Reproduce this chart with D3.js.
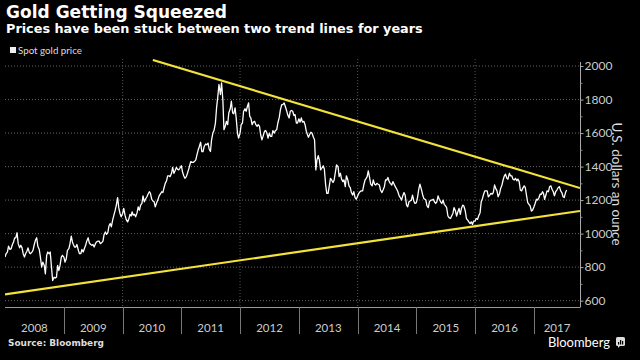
<!DOCTYPE html>
<html><head><meta charset="utf-8">
<script src="https://cdn.jsdelivr.net/npm/d3@7"></script>
<style>body{margin:0;background:#000;} svg{display:block}</style>
</head><body>
<svg id="c" width="640" height="360"></svg>
<script>
const titleText = "Gold Getting Squeezed";
const subtitleText = "Prices have been stuck between two trend lines for years";
const legendLabel = "Spot gold price";
const yAxisTitle = "U.S. dollars an ounce";
const sourceText = "Source: Bloomberg";
const brandText = "Bloomberg";
const yearLabels = ["2008","2009","2010","2011","2012","2013","2014","2015","2016","2017"];
const yTicks = [600, 800, 1000, 1200, 1400, 1600, 1800, 2000];
const yMinorTicks = [700, 900, 1100, 1300, 1500, 1700, 1900];
const gridYears = ["2010","2012","2014","2016"];
const weekDays = [1, 8, 16, 23];
// spot gold, USD/oz, four readings per month (days 1, 8, 16, 23)
const goldPrice = [
["2008-01",860,880,890,925],["2008-02",905,910,935,950],["2008-03",975,975,1005,940],
["2008-04",915,930,915,880],["2008-05",860,880,895,915],["2008-06",885,880,890,900],
["2008-07",935,960,975,925],["2008-08",905,860,800,830],["2008-09",810,760,870,890],
["2008-10",880,890,800,720],["2008-11",740,735,740,810],["2008-12",780,810,860,870],
["2009-01",860,830,850,900],["2009-02",910,940,985,950],["2009-03",935,920,920,935],
["2009-04",900,880,880,905],["2009-05",890,910,930,955],["2009-06",975,945,935,930],
["2009-07",935,920,940,950],["2009-08",955,955,940,945],["2009-09",955,995,1010,995],
["2009-10",1005,1045,1060,1040],["2009-11",1085,1110,1140,1170],["2009-12",1215,1155,1120,1100],
["2010-01",1120,1150,1110,1085],["2010-02",1070,1085,1115,1105],["2010-03",1130,1110,1115,1100],
["2010-04",1125,1160,1140,1170],["2010-05",1180,1225,1190,1205],["2010-06",1220,1235,1250,1240],
["2010-07",1205,1195,1190,1160],["2010-08",1185,1200,1225,1235],["2010-09",1250,1245,1275,1300],
["2010-10",1315,1345,1345,1340],["2010-11",1360,1395,1360,1375],["2010-12",1395,1385,1380,1390],
["2011-01",1405,1370,1345,1330],["2011-02",1340,1360,1385,1410],["2011-03",1430,1425,1425,1430],
["2011-04",1440,1470,1500,1520],["2011-05",1545,1490,1490,1520],["2011-06",1535,1530,1540,1505],
["2011-07",1490,1560,1600,1615],["2011-08",1660,1750,1820,1890],["2011-09",1830,1900,1800,1620],
["2011-10",1640,1670,1650,1720],["2011-11",1745,1790,1720,1715],["2011-12",1750,1690,1600,1570],
["2012-01",1600,1650,1660,1730],["2012-02",1745,1730,1760,1780],["2012-03",1700,1690,1650,1665],
["2012-04",1670,1650,1640,1650],["2012-05",1640,1590,1560,1580],["2012-06",1610,1615,1600,1570],
["2012-07",1600,1580,1580,1615],["2012-08",1600,1615,1620,1660],["2012-09",1695,1740,1770,1770],
["2012-10",1780,1760,1735,1710],["2012-11",1690,1730,1735,1730],["2012-12",1705,1710,1660,1660],
["2013-01",1685,1665,1690,1665],["2013-02",1670,1650,1610,1590],["2013-03",1575,1590,1605,1600],
["2013-04",1575,1560,1380,1440],["2013-05",1465,1440,1380,1390],["2013-06",1405,1385,1290,1240],
["2013-07",1240,1280,1330,1320],["2013-08",1305,1320,1370,1410],["2013-09",1400,1340,1360,1325],
["2013-10",1310,1320,1280,1345],["2013-11",1320,1285,1275,1245],["2013-12",1230,1250,1215,1205],
["2014-01",1225,1240,1250,1255],["2014-02",1255,1290,1320,1330],["2014-03",1340,1375,1335,1295],
["2014-04",1285,1320,1295,1290],["2014-05",1300,1295,1290,1260],["2014-06",1245,1260,1280,1320],
["2014-07",1320,1335,1310,1300],["2014-08",1290,1310,1295,1280],["2014-09",1265,1250,1225,1215],
["2014-10",1200,1225,1245,1230],["2014-11",1170,1160,1190,1195],["2014-12",1200,1230,1195,1180],
["2015-01",1185,1215,1265,1295],["2015-02",1265,1235,1210,1205],["2015-03",1200,1165,1155,1190],
["2015-04",1200,1200,1205,1190],["2015-05",1180,1190,1225,1205],["2015-06",1190,1180,1200,1175],
["2015-07",1165,1155,1105,1095],["2015-08",1090,1105,1120,1155],["2015-09",1135,1105,1130,1150],
["2015-10",1115,1150,1170,1165],["2015-11",1135,1090,1080,1070],["2015-12",1060,1070,1055,1075],
["2016-01",1075,1090,1085,1105],["2016-02",1125,1190,1210,1235],["2016-03",1255,1255,1255,1220],
["2016-04",1230,1240,1235,1245],["2016-05",1290,1270,1255,1220],["2016-06",1240,1270,1290,1320],
["2016-07",1345,1355,1330,1325],["2016-08",1360,1345,1345,1325],["2016-09",1320,1330,1315,1325],
["2016-10",1310,1260,1255,1270],["2016-11",1285,1275,1225,1185],["2016-12",1175,1165,1135,1140],
["2017-01",1160,1180,1205,1200],["2017-02",1215,1235,1235,1250],["2017-03",1240,1205,1230,1255],
["2017-04",1250,1280,1285,1265],["2017-05",1250,1225,1250,1260],["2017-06",1275,1280,1255,1245],
["2017-07",1220,1215,1245,1260]
];
const upperTrend = [["2010-07-08", 2036], ["2017-10-14", 1272]];
const lowerTrend = [["2008-01-01", 637], ["2017-10-14", 1135]];

const parseDay = d3.timeParse("%Y-%m-%d");
const parseMonth = d3.timeParse("%Y-%m");
const series = [];
goldPrice.forEach(row => {
  const m = parseMonth(row[0]);
  weekDays.forEach((day, i) => {
    series.push({date: new Date(m.getFullYear(), m.getMonth(), day), value: row[i + 1]});
  });
});

const svg = d3.select("#c");
const x = d3.scaleTime().domain([new Date(2008,0,1), new Date(2017,9,14)]).range([5, 580]);
const y = d3.scaleLinear().domain([562, 2042]).range([307, 59]);

svg.append("rect").attr("width",640).attr("height",360).attr("fill","#000");

function fit(sel, w) {
  const n = sel.node();
  const cur = n.getComputedTextLength();
  const fs = parseFloat(sel.attr("font-size"));
  sel.attr("font-size", (fs * w / cur).toFixed(2));
}

// titles
fit(svg.append("text").attr("x",6).attr("y",18).attr("fill","#fff").attr("font-family","DejaVu Sans")
  .attr("font-weight","bold").attr("font-size",18).text(titleText), 221);
fit(svg.append("text").attr("x",6).attr("y",33).attr("fill","#fff").attr("font-family","DejaVu Sans")
  .attr("font-weight","bold").attr("font-size",14).text(subtitleText), 417);

// legend
svg.append("rect").attr("x",10).attr("y",47).attr("width",6).attr("height",6).attr("fill","#eee");
fit(svg.append("text").attr("x",18).attr("y",53.5).attr("fill","#ddd").attr("font-family","Lato")
  .attr("font-size",11).text(legendLabel), 64);

// clip
svg.append("clipPath").attr("id","plot").append("rect").attr("x",5).attr("y",59).attr("width",575).attr("height",248);

// gridlines
const grid = svg.append("g");
grid.selectAll("line.h").data(yTicks).join("line").attr("class","h")
  .attr("x1",5).attr("x2",580).attr("y1",d=>y(d)).attr("y2",d=>y(d))
  .attr("stroke","#666").attr("stroke-dasharray","1,2");
grid.selectAll("line.v").data(gridYears).join("line").attr("class","v")
  .attr("x1",d=>x(new Date(+d,0,1))).attr("x2",d=>x(new Date(+d,0,1)))
  .attr("y1",59).attr("y2",307)
  .attr("stroke","#555").attr("stroke-dasharray","1,2");

// x axis
svg.append("line").attr("x1",5).attr("x2",580).attr("y1",307.5).attr("y2",307.5).attr("stroke","#999");
const bounds = yearLabels.map(yr => new Date(+yr,0,1));
svg.selectAll("line.yt").data(bounds.slice(1)).join("line").attr("class","yt")
  .attr("x1",d=>Math.round(x(d))+0.5).attr("x2",d=>Math.round(x(d))+0.5)
  .attr("y1",307).attr("y2",334).attr("stroke","#777");
svg.selectAll("text.yl").data(yearLabels).join("text").attr("class","yl")
  .attr("x",(d,i)=>{
    const a = x(bounds[i]);
    const b = i < bounds.length-1 ? x(bounds[i+1]) : 580;
    return (Math.max(a,5) + Math.min(b,580)) / 2;
  })
  .attr("y",332).attr("text-anchor","middle").attr("fill","#ccc")
  .attr("font-family","Lato").attr("font-size",11.5).text(d=>d);

// y axis
const yAxis = svg.append("g").attr("transform","translate(580.5,0)")
  .call(d3.axisRight(y).tickValues(yTicks).tickFormat(d3.format("d")).tickSize(3).tickPadding(1).tickSizeOuter(0));
yAxis.select(".domain").attr("stroke","#aaa").attr("d","M0,62V307.5");
yAxis.selectAll(".tick line").attr("stroke","#aaa");
yAxis.selectAll(".tick text").attr("fill","#ccc").attr("font-family","Lato").attr("font-size",12);
const yMinor = svg.append("g").attr("transform","translate(580.5,0)")
  .call(d3.axisRight(y).tickValues(yMinorTicks).tickSize(2).tickFormat(""));
yMinor.select(".domain").remove();
yMinor.selectAll(".tick line").attr("stroke","#888");

svg.append("text").attr("transform","translate(617,184) rotate(90)").attr("text-anchor","middle")
  .attr("dominant-baseline","central")
  .attr("fill","#ddd").attr("font-family","Lato").attr("font-size",13.5).text(yAxisTitle);

// trend lines
const tl = d3.line().x(d=>x(parseDay(d[0]))).y(d=>y(d[1]));
const plot = svg.append("g").attr("clip-path","url(#plot)");
plot.append("path").attr("d",tl(upperTrend)).attr("stroke","#f2e23a").attr("stroke-width",2.2).attr("fill","none");
plot.append("path").attr("d",tl(lowerTrend)).attr("stroke","#f2e23a").attr("stroke-width",2.2).attr("fill","none");

// price
plot.append("path").datum(series)
  .attr("d", d3.line().x(d=>x(d.date)).y(d=>y(d.value)))
  .attr("stroke","#fff").attr("stroke-width",1.3).attr("fill","none").attr("stroke-linejoin","round");

// footer
fit(svg.append("text").attr("x",8).attr("y",346).attr("fill","#ddd").attr("font-family","DejaVu Sans")
  .attr("font-weight","bold").attr("font-size",11).text(sourceText), 96);
fit(svg.append("text").attr("x",548).attr("y",346.5).attr("fill","#fff").attr("font-family","Lato")
  .attr("font-size",14).text(brandText), 62);
const icon = svg.append("g").attr("transform","translate(616,337)");
icon.append("rect").attr("width",9).attr("height",9).attr("rx",1.5).attr("fill","#ddd");
icon.append("path").attr("d","M2,9 L2,11 L4,9 Z").attr("fill","#ddd");
icon.append("rect").attr("x",2).attr("y",5).attr("width",1.2).attr("height",2.5).attr("fill","#000");
icon.append("rect").attr("x",4).attr("y",3).attr("width",1.2).attr("height",4.5).attr("fill","#000");
icon.append("rect").attr("x",6).attr("y",4).attr("width",1.2).attr("height",3.5).attr("fill","#000");
</script>
</body></html>
